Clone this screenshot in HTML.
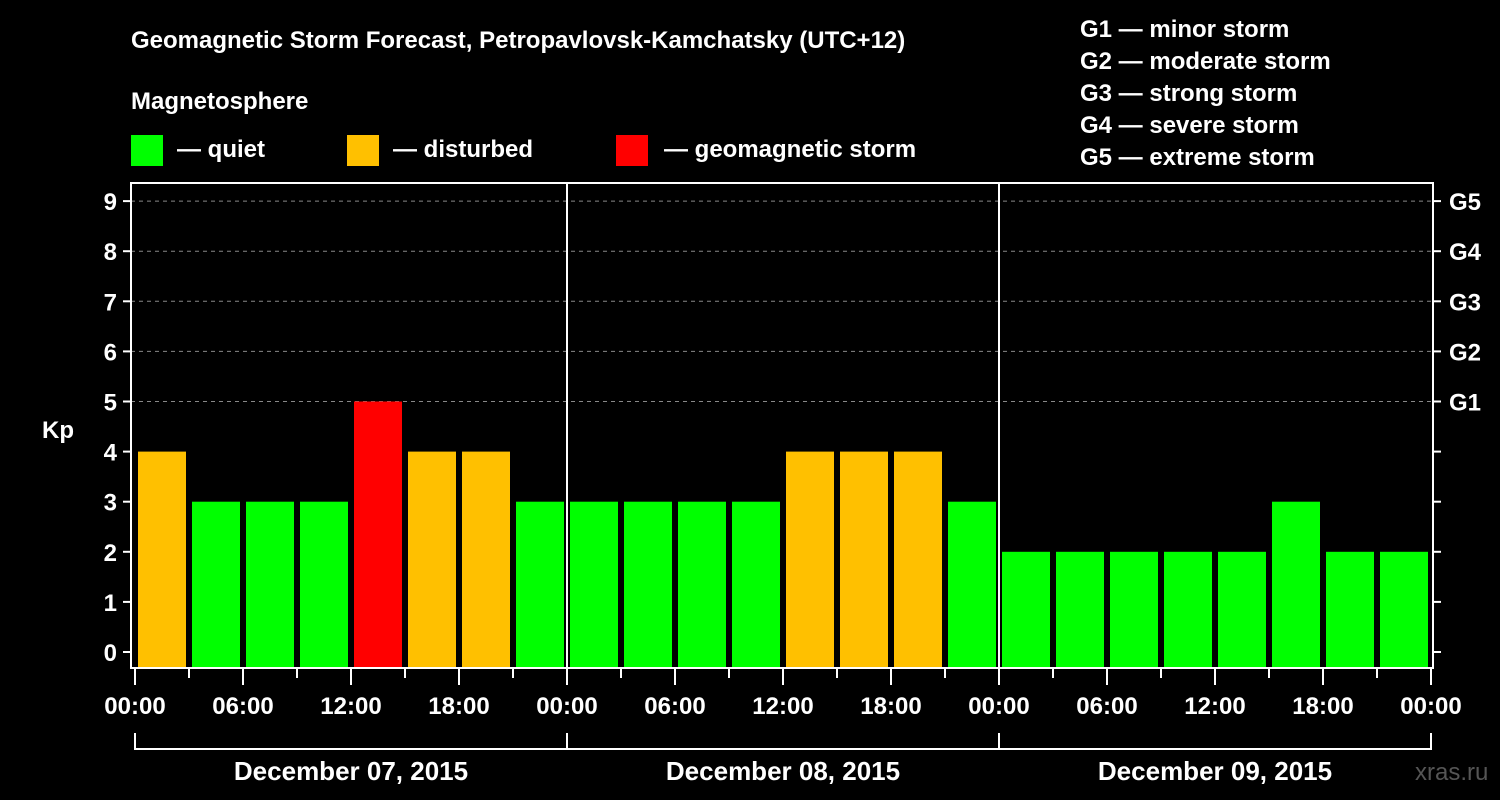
<!DOCTYPE html>
<html><head><meta charset="utf-8"><style>
html,body{margin:0;padding:0;background:#000;}
svg{display:block;font-family:"Liberation Sans",Arial,sans-serif;font-weight:bold;}
</style></head><body>
<svg id="chart" width="1500" height="800" viewBox="0 0 1500 800">
<rect width="1500" height="800" fill="#000"/>
<text x="131" y="48" font-size="24" fill="#fff">Geomagnetic Storm Forecast, Petropavlovsk-Kamchatsky (UTC+12)</text>
<text x="131" y="109" font-size="24" fill="#fff">Magnetosphere</text>
<g><rect x="131" y="135" width="32" height="31" fill="#00ff00"/><text x="177" y="157" font-size="24" fill="#fff">— quiet</text></g>
<g><rect x="347" y="135" width="32" height="31" fill="#ffc000"/><text x="393" y="157" font-size="24" fill="#fff">— disturbed</text></g>
<g><rect x="616" y="135" width="32" height="31" fill="#ff0000"/><text x="664" y="157" font-size="24" fill="#fff">— geomagnetic storm</text></g>
<g font-size="24" fill="#fff">
<text x="1080" y="37">G1 — minor storm</text>
<text x="1080" y="69">G2 — moderate storm</text>
<text x="1080" y="101">G3 — strong storm</text>
<text x="1080" y="133">G4 — severe storm</text>
<text x="1080" y="165">G5 — extreme storm</text>
</g>
<text x="42" y="438" font-size="24" fill="#fff">Kp</text>
<text x="1415" y="780" font-size="24" fill="#555" font-weight="normal">xras.ru</text>
<g id="grid"></g><g id="bars"></g><g id="axes"></g>
</svg>
<script>
const days = ["December 07, 2015","December 08, 2015","December 09, 2015"];
const kpValues = [4,3,3,3,5,4,4,3, 3,3,3,3,4,4,4,3, 2,2,2,2,2,3,2,2];
const yTicks = [0,1,2,3,4,5,6,7,8,9];
const gLabels = ["G1","G2","G3","G4","G5"];
const timeLabels = ["00:00","06:00","12:00","18:00"];

const NS="http://www.w3.org/2000/svg";
const L=131,R=1433,T=183,B=668,X0=135,DAYW=432;
const y=v=>652-v*50.1;
const x=h=>X0+h*DAYW/24;
function mk(tag,attrs,parent){const e=document.createElementNS(NS,tag);for(const k in attrs)e.setAttribute(k,attrs[k]);parent.appendChild(e);return e;}
const grid=document.getElementById('grid'),bars=document.getElementById('bars'),axes=document.getElementById('axes');
for(let v=5;v<=9;v++){const l=mk('line',{x1:L,x2:R,y1:y(v),y2:y(v),stroke:'#888','stroke-width':1,'stroke-dasharray':'4,4'},grid);

}
kpValues.forEach((v,i)=>{const col=v>=5?'#ff0000':(v>=4?'#ffc000':'#00ff00');
const r=mk('rect',{x:x(i*3)+3,width:48,y:y(v),height:B-y(v),fill:col},bars);

});
for(let d=1;d<days.length;d++){const l=mk('line',{x1:x(d*24),x2:x(d*24),y1:T,y2:B,stroke:'#fff','stroke-width':2},axes);

}
const box=mk('rect',{x:L,y:T,width:R-L,height:B-T,fill:'none',stroke:'#fff','stroke-width':2},axes);


yTicks.forEach(v=>{mk('line',{x1:L-8,x2:L,y1:y(v),y2:y(v),stroke:'#fff','stroke-width':2},axes);
mk('line',{x1:R,x2:R+8,y1:y(v),y2:y(v),stroke:'#fff','stroke-width':2},axes);
const t=mk('text',{x:L-14,y:y(v)+9,'font-size':24,fill:'#fff','text-anchor':'end'},axes);t.textContent=v;

});
gLabels.forEach((g,i)=>{const t=mk('text',{x:1449,y:y(5+i)+9,'font-size':24,fill:'#fff'},axes);t.textContent=g;

});
for(let h=0;h<=days.length*24;h+=3){const major=h%6===0;
mk('line',{x1:x(h),x2:x(h),y1:B,y2:B+(major?17:10),stroke:'#fff','stroke-width':2},axes);
if(major){const t=mk('text',{x:x(h),y:714,'font-size':24,fill:'#fff','text-anchor':'middle'},axes);t.textContent=timeLabels[(h/6)%4];

}}
mk('line',{x1:x(0),x2:x(days.length*24),y1:749,y2:749,stroke:'#fff','stroke-width':2},axes);
for(let d=0;d<=days.length;d++)mk('line',{x1:x(d*24),x2:x(d*24),y1:733,y2:750,stroke:'#fff','stroke-width':2},axes);
days.forEach((s,d)=>{const t=mk('text',{x:x(d*24+12),y:780,'font-size':26,fill:'#fff','text-anchor':'middle'},axes);t.textContent=s;

});
</script>
</body></html>
